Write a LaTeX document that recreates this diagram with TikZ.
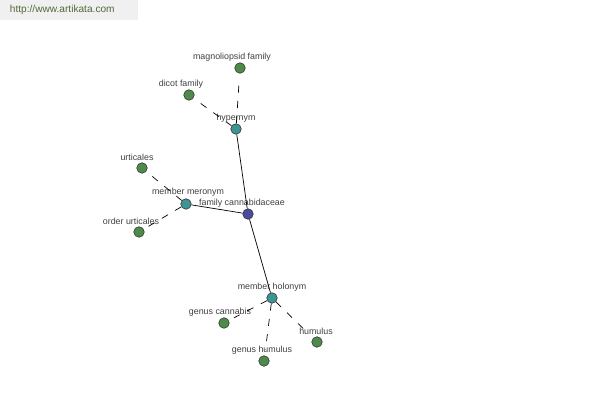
\documentclass[tikz,border=0pt]{standalone}
\usepackage{fontspec}
\setmainfont{Liberation Sans}
\usetikzlibrary{positioning}

\definecolor{leafgreen}{HTML}{4E8A4A}
\definecolor{relteal}{HTML}{3E9494}
\definecolor{rootblue}{HTML}{4A4A9E}
\definecolor{labelgray}{HTML}{404040}
\definecolor{markgray}{HTML}{F0F0F0}
\definecolor{markgreen}{HTML}{4F6A3A}

\begin{document}
\begin{tikzpicture}[
  x=0.025cm, y=-0.025cm,
  leaf/.style={
        draw=black!80,
        circle,
        fill=leafgreen,
        minimum size=7.5pt,
        inner sep=0pt
  },
  rel/.style={
        leaf,
        fill=relteal
  },
  root/.style={
        leaf,
        fill=rootblue
  },
  lbl/.style={
        text=labelgray,
        font=\fontsize{6.3}{7}\selectfont,
        inner sep=0pt
  },
  link/.style={
        draw=black,
        line width=0.5pt
  },
  dlink/.style={
        link,
        dash pattern=on 5pt off 6pt,
        shorten >=4pt
  }
]

    \useasboundingbox (0,0) rectangle (600,400);

    % watermark
    \fill[markgray] (0,0) rectangle (138,20);
    \node[text=markgreen, font=\fontsize{7.2}{9}\selectfont, anchor=west] (site) at (5,10) {http://www.artikata.com};

    % nodes
    \node[root] (CANN) at (248,214) {};
    \node[rel] (HYPER) at (236,129) {};
    \node[rel] (MERO) at (186,204) {};
    \node[rel] (HOLO) at (272,298) {};
    \node[leaf] (MAGNO) at (240,68) {};
    \node[leaf] (DICOT) at (189,95) {};
    \node[leaf] (URTI) at (142,168) {};
    \node[leaf] (ORDURTI) at (139,232) {};
    \node[leaf] (GCANN) at (224,323) {};
    \node[leaf] (GHUM) at (264,361) {};
    \node[leaf] (HUM) at (317,342) {};

    % labels
    \node[lbl] (CANN_l) at (242,203) {family cannabidaceae};
    \node[lbl] (HYPER_l) at (236,118) {hypernym};
    \node[lbl] (MERO_l) at (188,192) {member meronym};
    \node[lbl] (HOLO_l) at (272,287) {member holonym};
    \node[lbl] (MAGNO_l) at (232,57) {magnoliopsid family};
    \node[lbl] (DICOT_l) at (181,84) {dicot family};
    \node[lbl] (URTI_l) at (137,157) {urticales};
    \node[lbl] (ORDURTI_l) at (131,221) {order urticales};
    \node[lbl] (GCANN_l) at (220,312) {genus cannabis};
    \node[lbl] (GHUM_l) at (262,350) {genus humulus};
    \node[lbl] (HUM_l) at (316,331) {humulus};

    % relations
    \draw[link] (CANN) -- (HYPER);
    \draw[link] (CANN) -- (MERO);
    \draw[link] (CANN) -- (HOLO);

    \draw[dlink] (HYPER) -- (MAGNO);
    \draw[dlink] (HYPER) -- (DICOT);
    \draw[dlink] (MERO) -- (URTI);
    \draw[dlink] (MERO) -- (ORDURTI);
    \draw[dlink] (HOLO) -- (GCANN);
    \draw[dlink] (HOLO) -- (GHUM);
    \draw[dlink] (HOLO) -- (HUM);
\end{tikzpicture}
\end{document}
